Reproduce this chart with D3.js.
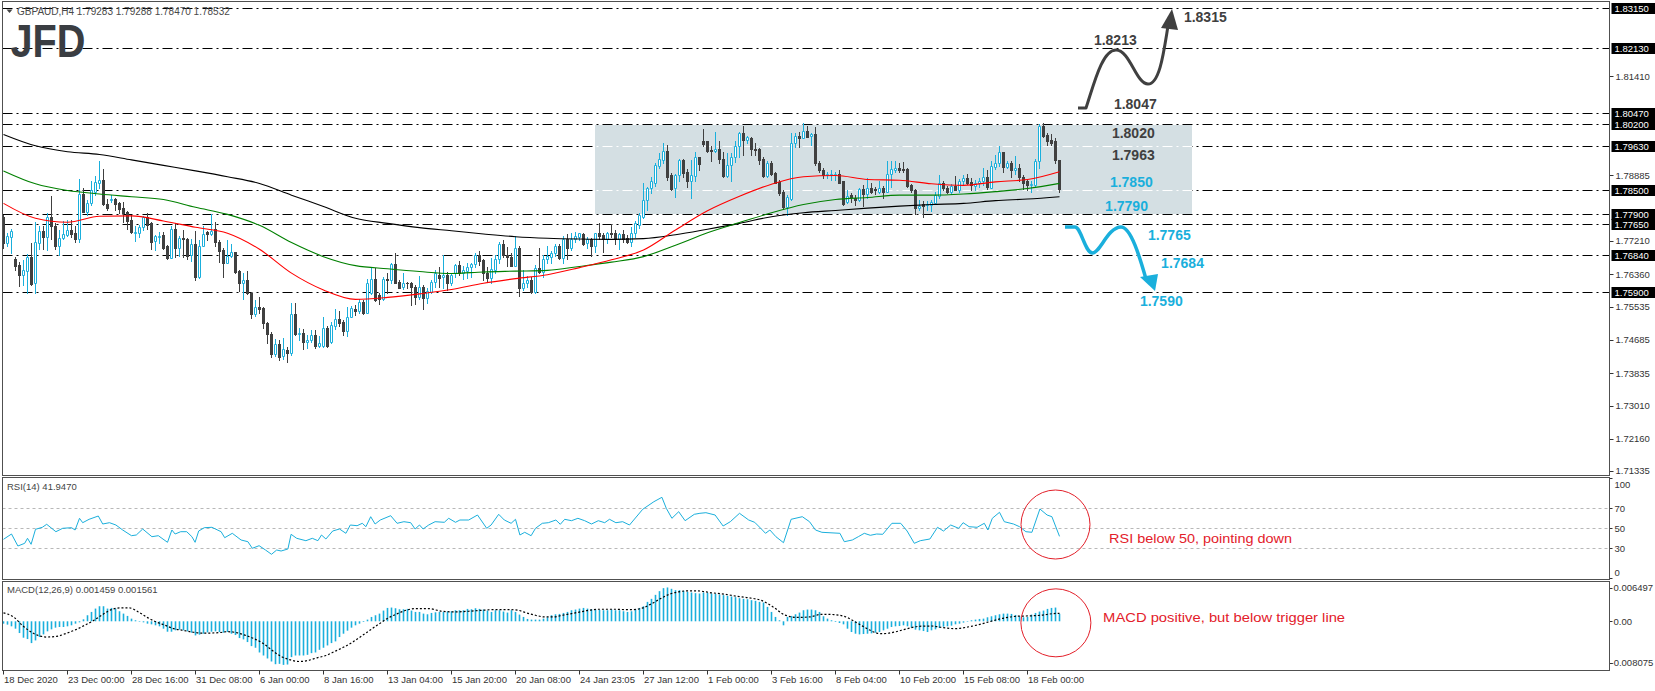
<!DOCTYPE html>
<html><head><meta charset="utf-8">
<script src="https://cdn.jsdelivr.net/npm/d3@7"></script>
<style>
html,body{margin:0;padding:0;background:#fff;}
svg{display:block;}
text{font-family:"Liberation Sans",Arial,sans-serif;}
</style></head><body>
<svg id="c" width="1655" height="691"></svg>
<script>
// ---------------- DATA ----------------
const symbolTitle = "GBPAUD,H4  1.79283 1.79288 1.78470 1.78532";
const open = [1.7783,1.7717,1.7732,1.7674,1.7660,1.7633,1.7645,1.7679,1.7613,1.7717,
1.7747,1.7730,1.7783,1.7759,1.7709,1.7728,1.7736,1.7749,1.7742,1.7725,
1.7841,1.7796,1.7817,1.7847,1.7870,1.7877,1.7816,1.7826,1.7828,1.7817,
1.7805,1.7794,1.7775,1.7742,1.7741,1.7756,1.7783,1.7766,1.7720,1.7732,
1.7736,1.7707,1.7678,1.7752,1.7702,1.7729,1.7725,1.7685,1.7713,1.7630,
1.7708,1.7744,1.7738,1.7751,1.7719,1.7698,1.7666,1.7683,1.7692,1.7644,
1.7613,1.7621,1.7589,1.7534,1.7552,1.7549,1.7511,1.7484,1.7432,1.7457,
1.7427,1.7443,1.7434,1.7535,1.7483,1.7485,1.7462,1.7468,1.7481,1.7453,
1.7454,1.7498,1.7464,1.7504,1.7522,1.7513,1.7490,1.7528,1.7547,1.7542,
1.7564,1.7536,1.7587,1.7624,1.7583,1.7572,1.7624,1.7621,1.7662,1.7616,
1.7603,1.7615,1.7613,1.7604,1.7577,1.7603,1.7575,1.7592,1.7617,1.7634,
1.7628,1.7634,1.7613,1.7639,1.7660,1.7639,1.7645,1.7654,1.7662,1.7685,
1.7672,1.7640,1.7626,1.7647,1.7674,1.7713,1.7685,1.7679,1.7658,1.7702,
1.7600,1.7613,1.7621,1.7592,1.7651,1.7643,1.7674,1.7681,1.7690,1.7709,
1.7677,1.7726,1.7702,1.7725,1.7730,1.7738,1.7715,1.7725,1.7709,1.7741,
1.7736,1.7725,1.7741,1.7741,1.7725,1.7738,1.7728,1.7719,1.7741,1.7762,
1.7783,1.7826,1.7856,1.7870,1.7913,1.7928,1.7951,1.7890,1.7856,1.7890,
1.7928,1.7896,1.7873,1.7888,1.7935,1.7976,1.7975,1.7953,1.7952,1.7956,
1.7930,1.7887,1.7915,1.7936,1.7964,1.7996,1.7979,1.7983,1.7956,1.7955,
1.7930,1.7887,1.7919,1.7894,1.7871,1.7847,1.7807,1.7828,1.7970,1.7989,
1.7985,1.8003,1.7989,1.7993,1.7921,1.7902,1.7890,1.7890,1.7890,1.7892,
1.7873,1.7820,1.7839,1.7832,1.7826,1.7853,1.7841,1.7856,1.7853,1.7847,
1.7856,1.7847,1.7892,1.7901,1.7907,1.7905,1.7905,1.7864,1.7850,1.7804,
1.7815,1.7813,1.7813,1.7819,1.7836,1.7868,1.7857,1.7845,1.7862,1.7851,
1.7873,1.7881,1.7871,1.7862,1.7868,1.7873,1.7884,1.7857,1.7911,1.7919,
1.7947,1.7911,1.7919,1.7902,1.7907,1.7885,1.7873,1.7864,1.7864,1.7924,
1.8015,1.7992,1.7979,1.7976,1.79283];
const high = [1.7787,1.7741,1.7751,1.7681,1.7668,1.7673,1.7688,1.7715,1.7769,1.7758,
1.7758,1.7792,1.7836,1.7766,1.7749,1.7773,1.7775,1.7775,1.7758,1.7879,
1.7856,1.7826,1.7873,1.7887,1.7925,1.7905,1.7827,1.7838,1.7832,1.7821,
1.7821,1.7797,1.7787,1.7758,1.7762,1.7785,1.7792,1.7770,1.7736,1.7745,
1.7745,1.7711,1.7758,1.7766,1.7734,1.7749,1.7728,1.7725,1.7747,1.7724,
1.7758,1.7747,1.7789,1.7770,1.7724,1.7702,1.7724,1.7713,1.7694,1.7647,
1.7638,1.7645,1.7590,1.7570,1.7577,1.7552,1.7515,1.7488,1.7472,1.7468,
1.7474,1.7451,1.7562,1.7562,1.7498,1.7496,1.7481,1.7494,1.7494,1.7478,
1.7526,1.7505,1.7515,1.7547,1.7541,1.7519,1.7552,1.7555,1.7558,1.7572,
1.7570,1.7624,1.7653,1.7651,1.7587,1.7630,1.7638,1.7666,1.7690,1.7621,
1.7639,1.7617,1.7617,1.7609,1.7632,1.7609,1.7600,1.7621,1.7647,1.7655,
1.7684,1.7643,1.7637,1.7662,1.7669,1.7657,1.7664,1.7666,1.7690,1.7696,
1.7674,1.7654,1.7677,1.7685,1.7719,1.7724,1.7705,1.7690,1.7734,1.7709,
1.7647,1.7632,1.7630,1.7660,1.7702,1.7685,1.7709,1.7696,1.7713,1.7713,
1.7734,1.7738,1.7741,1.7743,1.7742,1.7741,1.7730,1.7728,1.7742,1.7768,
1.7741,1.7745,1.7764,1.7749,1.7742,1.7749,1.7736,1.7756,1.7773,1.7792,
1.7868,1.7860,1.7884,1.7919,1.7945,1.7970,1.7966,1.7894,1.7892,1.7930,
1.7930,1.7905,1.7928,1.7949,1.7936,1.8007,1.7976,1.7964,1.7998,1.7975,
1.7947,1.7945,1.7945,1.7975,1.8000,1.8015,1.7989,1.7986,1.7970,1.7958,
1.7936,1.7924,1.7925,1.7898,1.7877,1.7851,1.7839,1.7996,1.7996,1.7998,
1.8021,1.8015,1.7996,1.8011,1.7924,1.7907,1.7898,1.7902,1.7898,1.7901,
1.7874,1.7850,1.7843,1.7839,1.7856,1.7864,1.7881,1.7870,1.7860,1.7874,
1.7861,1.7925,1.7925,1.7925,1.7921,1.7922,1.7907,1.7867,1.7853,1.7826,
1.7824,1.7824,1.7826,1.7847,1.7890,1.7874,1.7861,1.7867,1.7887,1.7879,
1.7890,1.7892,1.7881,1.7877,1.7881,1.7907,1.7901,1.7924,1.7941,1.7964,
1.7949,1.7926,1.7924,1.7938,1.7917,1.7890,1.7879,1.7873,1.7930,1.8019,
1.8021,1.7996,1.7993,1.7983,1.79288];
const low = [1.7702,1.7707,1.7691,1.7647,1.7607,1.7609,1.7587,1.7609,1.7589,1.7701,
1.7701,1.7698,1.7725,1.7701,1.7684,1.7726,1.7734,1.7730,1.7719,1.7719,
1.7794,1.7787,1.7813,1.7838,1.7855,1.7813,1.7800,1.7821,1.7800,1.7793,
1.7770,1.7752,1.7741,1.7722,1.7730,1.7749,1.7751,1.7701,1.7698,1.7715,
1.7701,1.7674,1.7677,1.7681,1.7683,1.7681,1.7674,1.7670,1.7621,1.7627,
1.7707,1.7724,1.7736,1.7707,1.7668,1.7630,1.7664,1.7681,1.7640,1.7594,
1.7572,1.7586,1.7524,1.7530,1.7536,1.7498,1.7460,1.7426,1.7427,1.7417,
1.7419,1.7413,1.7430,1.7481,1.7468,1.7444,1.7447,1.7464,1.7447,1.7451,
1.7451,1.7451,1.7461,1.7496,1.7504,1.7481,1.7479,1.7526,1.7532,1.7536,
1.7534,1.7536,1.7585,1.7568,1.7560,1.7570,1.7589,1.7615,1.7613,1.7600,
1.7598,1.7600,1.7558,1.7560,1.7574,1.7547,1.7562,1.7587,1.7604,1.7604,
1.7600,1.7596,1.7609,1.7628,1.7634,1.7624,1.7626,1.7630,1.7655,1.7660,
1.7621,1.7619,1.7615,1.7639,1.7664,1.7681,1.7656,1.7656,1.7656,1.7581,
1.7596,1.7603,1.7589,1.7589,1.7640,1.7630,1.7666,1.7666,1.7683,1.7674,
1.7666,1.7674,1.7698,1.7719,1.7724,1.7711,1.7702,1.7683,1.7694,1.7725,
1.7694,1.7717,1.7732,1.7713,1.7701,1.7718,1.7715,1.7707,1.7730,1.7753,
1.7779,1.7800,1.7843,1.7861,1.7907,1.7919,1.7877,1.7850,1.7834,1.7873,
1.7885,1.7860,1.7830,1.7874,1.7902,1.7964,1.7949,1.7926,1.7949,1.7919,
1.7885,1.7885,1.7875,1.7922,1.7936,1.7941,1.7970,1.7941,1.7941,1.7918,
1.7885,1.7884,1.7890,1.7868,1.7839,1.7802,1.7787,1.7826,1.7962,1.7962,
1.7983,1.7986,1.7966,1.7915,1.7898,1.7881,1.7881,1.7877,1.7877,1.7868,
1.7813,1.7817,1.7821,1.7813,1.7824,1.7810,1.7830,1.7843,1.7840,1.7843,
1.7830,1.7845,1.7858,1.7896,1.7896,1.7898,1.7858,1.7845,1.7789,1.7800,
1.7783,1.7800,1.7798,1.7817,1.7830,1.7850,1.7843,1.7841,1.7850,1.7847,
1.7864,1.7867,1.7850,1.7851,1.7858,1.7864,1.7853,1.7856,1.7905,1.7912,
1.7898,1.7908,1.7885,1.7892,1.7875,1.7853,1.7851,1.7847,1.7861,1.7907,
1.7987,1.7966,1.7966,1.7921,1.78470];
const close = [1.7715,1.7734,1.7747,1.7658,1.7633,1.7647,1.7679,1.7611,1.7718,1.7747,
1.7730,1.7783,1.7758,1.7708,1.7728,1.7738,1.7749,1.7739,1.7725,1.7841,
1.7796,1.7817,1.7851,1.7872,1.7877,1.7816,1.7804,1.7828,1.7816,1.7803,
1.7793,1.7773,1.7743,1.7745,1.7756,1.7783,1.7762,1.7719,1.7734,1.7734,
1.7704,1.7678,1.7752,1.7704,1.7729,1.7725,1.7683,1.7713,1.7630,1.7708,
1.7739,1.7738,1.7747,1.7719,1.7696,1.7666,1.7683,1.7692,1.7643,1.7613,
1.7621,1.7587,1.7534,1.7552,1.7547,1.7511,1.7484,1.7432,1.7457,1.7426,
1.7444,1.7434,1.7535,1.7483,1.7485,1.7462,1.7468,1.7481,1.7453,1.7460,
1.7498,1.7454,1.7507,1.7521,1.7511,1.7490,1.7528,1.7549,1.7541,1.7564,
1.7536,1.7613,1.7624,1.7570,1.7572,1.7624,1.7621,1.7662,1.7615,1.7602,
1.7615,1.7613,1.7604,1.7577,1.7603,1.7575,1.7594,1.7617,1.7639,1.7627,
1.7634,1.7613,1.7634,1.7660,1.7639,1.7647,1.7654,1.7662,1.7685,1.7671,
1.7639,1.7627,1.7649,1.7674,1.7713,1.7684,1.7679,1.7658,1.7702,1.7600,
1.7613,1.7621,1.7592,1.7651,1.7643,1.7674,1.7683,1.7690,1.7709,1.7677,
1.7726,1.7702,1.7726,1.7734,1.7741,1.7713,1.7725,1.7709,1.7741,1.7734,
1.7725,1.7741,1.7739,1.7725,1.7738,1.7725,1.7719,1.7741,1.7766,1.7787,
1.7826,1.7856,1.7873,1.7915,1.7930,1.7951,1.7885,1.7853,1.7890,1.7928,
1.7894,1.7873,1.7890,1.7935,1.7917,1.7969,1.7952,1.7952,1.7955,1.7930,
1.7887,1.7915,1.7936,1.7964,1.7996,1.7979,1.7986,1.7955,1.7953,1.7928,
1.7887,1.7919,1.7892,1.7870,1.7843,1.7807,1.7833,1.7970,1.7989,1.7985,
1.8003,1.7987,1.7993,1.7919,1.7901,1.7890,1.7892,1.7892,1.7892,1.7870,
1.7816,1.7837,1.7834,1.7826,1.7853,1.7841,1.7856,1.7847,1.7850,1.7856,
1.7847,1.7892,1.7904,1.7907,1.7902,1.7902,1.7862,1.7850,1.7804,1.7811,
1.7811,1.7815,1.7821,1.7839,1.7868,1.7856,1.7845,1.7862,1.7851,1.7874,
1.7881,1.7870,1.7864,1.7870,1.7874,1.7884,1.7858,1.7912,1.7919,1.7947,
1.7911,1.7919,1.7902,1.7907,1.7884,1.7870,1.7864,1.7866,1.7925,1.8015,
1.7989,1.7977,1.7970,1.7928,1.78532];

// moving averages sampled every 8 bars
const maBars = [0,8,16,24,32,40,48,56,64,72,80,88,96,104,112,120,128,136,144,152,160,168,176,184,192,200,208,216,224,232,240,248,256,264];
const ma200 = [1.7993,1.7964,1.7949,1.7942,1.7928,1.7914,1.7900,1.7885,1.7868,1.7838,1.7809,1.7779,1.7766,1.7755,1.7747,1.7739,1.7732,1.7728,1.7726,1.7725,1.7727,1.7737,1.7751,1.7766,1.7783,1.7793,1.7799,1.7805,1.7810,1.7814,1.7817,1.7824,1.7828,1.7834];
const ma100 = [1.7900,1.7867,1.7850,1.7841,1.7834,1.7827,1.7807,1.7789,1.7761,1.7717,1.7681,1.7658,1.7650,1.7643,1.7638,1.7642,1.7644,1.7646,1.7656,1.7667,1.7681,1.7710,1.7742,1.7768,1.7793,1.7814,1.7827,1.7832,1.7838,1.7838,1.7841,1.7847,1.7855,1.7868];
const ma50 = [1.7817,1.7779,1.7769,1.7784,1.7785,1.7772,1.7756,1.7741,1.7700,1.7639,1.7596,1.7572,1.7577,1.7586,1.7597,1.7613,1.7625,1.7635,1.7653,1.7673,1.7698,1.7749,1.7798,1.7835,1.7866,1.7885,1.7888,1.7878,1.7876,1.7867,1.7863,1.7872,1.7878,1.7898];

// RSI(14) [bar, value]
const rsiSeries = [[0,39.0],[2,44.3],[3.6,32.3],[5.3,35.0],[6,40.0],[6.9,34.0],[8,49.0],[9.7,51.0],[10.8,54.0],[13.1,46.6],[14.8,50.0],[17,50.6],[17.9,48.3],[19,60.0],[19.8,55.6],[21.4,59.0],[23.7,62.3],[24.8,54.3],[26.5,55.6],[28.1,53.3],[29.8,48.3],[32,42.6],[33.2,43.3],[34.8,49.3],[37.1,41.6],[38.7,42.6],[41,36.0],[42.1,48.3],[42.9,44.3],[44.3,46.6],[45.8,46.6],[47.1,41.6],[47.9,36.0],[48.8,47.3],[50.2,50.6],[52.1,51.0],[54.4,46.6],[55.3,40.6],[57.2,45.0],[59.4,38.3],[61.1,36.6],[62.2,30.0],[63.9,32.6],[65.5,28.3],[67,24.0],[68.3,28.3],[69.4,27.3],[71.1,29.3],[71.9,44.0],[73.3,40.0],[75.6,37.6],[77.2,40.0],[78.6,37.6],[79.5,43.3],[80.6,39.3],[82.3,47.3],[84,49.3],[85.6,45.0],[86.7,53.3],[88.4,52.6],[89.7,55.0],[90.6,51.6],[91.8,61.6],[92.9,54.3],[94.2,58.3],[96.8,62.6],[98.4,55.0],[100.1,56.6],[101.8,55.6],[102.9,49.3],[104,53.3],[104.9,49.3],[106.3,53.3],[107.9,56.6],[110.2,56.0],[111.3,60.0],[113,56.0],[114.1,58.3],[116.3,58.3],[118.5,63.3],[120.8,50.0],[121.9,53.3],[123.8,64.0],[125.2,58.3],[126.9,55.0],[128,59.0],[129.1,43.3],[130.3,46.0],[131.9,42.6],[133,50.0],[134.7,55.0],[136.2,55.6],[138.1,58.3],[139.2,54.0],[140.3,59.0],[142,57.6],[143.6,60.0],[145.3,57.6],[147,54.3],[148.7,57.6],[150.3,55.6],[151.5,59.0],[153.1,55.6],[154.8,56.6],[156.5,53.3],[159.8,69.0],[162.6,76.6],[164.6,81.0],[165.7,70.0],[167.1,60.0],[168.8,66.6],[170.4,57.6],[172.7,64.0],[174.1,65.0],[175.6,65.6],[177.9,63.3],[179.9,52.3],[181.7,56.6],[184,65.0],[186.3,58.3],[187.8,56.0],[189.3,50.0],[190.5,45.0],[191.6,48.3],[193.1,41.6],[195,35.6],[196.9,59.0],[199.7,61.6],[201.5,56.6],[203,48.3],[204.6,46.0],[209.1,45.0],[210.2,36.6],[212.2,38.3],[213.7,41.6],[215.2,45.0],[216.7,43.0],[218.3,44.3],[219.8,44.0],[222.1,55.0],[224.3,55.0],[225.9,47.3],[227.7,35.0],[229.2,37.6],[231.6,39.3],[233.5,51.0],[235,47.3],[236.8,53.3],[238.8,50.0],[239.9,55.6],[241.4,51.6],[243.4,51.0],[245.2,55.0],[246.1,48.3],[247.2,60.0],[249,66.0],[250.2,56.6],[252.5,54.3],[254,51.6],[255.6,46.6],[257.1,46.0],[259.1,69.3],[260.9,63.3],[262.1,61.6],[264,41.947]];
const rsiLevels = [70,50,30];
const rsiAxisLabels = ["100","70","50","30","0"];
const rsiAxisValues = [100,70,50,30,0];

// MACD(12,26,9) main (histogram), one per bar
const macdMain = [-0.00046,-0.00065,-0.00098,-0.00144,-0.00229,-0.00320,-0.00346,-0.00425,-0.00373,-0.00307,
-0.00255,-0.00196,-0.00157,-0.00124,-0.00111,-0.00111,-0.00098,-0.00078,-0.00046,-0.00020,
0.00039,0.00118,0.00183,0.00248,0.00294,0.00294,0.00248,0.00261,0.00248,0.00196,
0.00150,0.00105,0.00052,0.00020,0.00005,-0.00020,-0.00046,-0.00059,-0.00078,-0.00098,
-0.00144,-0.00203,-0.00203,-0.00176,-0.00163,-0.00176,-0.00196,-0.00222,-0.00275,-0.00261,
-0.00242,-0.00216,-0.00203,-0.00196,-0.00209,-0.00222,-0.00209,-0.00242,-0.00268,-0.00327,
-0.00353,-0.00405,-0.00484,-0.00516,-0.00608,-0.00667,-0.00725,-0.00784,-0.00837,-0.00830,
-0.00850,-0.00843,-0.00699,-0.00667,-0.00667,-0.00667,-0.00654,-0.00621,-0.00608,-0.00556,
-0.00516,-0.00471,-0.00425,-0.00392,-0.00307,-0.00242,-0.00183,-0.00124,-0.00078,-0.00046,
-0.00013,0.00033,0.00085,0.00118,0.00150,0.00209,0.00261,0.00268,0.00255,0.00235,
0.00235,0.00242,0.00209,0.00183,0.00183,0.00150,0.00137,0.00163,0.00176,0.00183,
0.00183,0.00190,0.00196,0.00216,0.00216,0.00216,0.00242,0.00235,0.00255,0.00242,
0.00229,0.00209,0.00183,0.00216,0.00216,0.00190,0.00170,0.00216,0.00183,0.00131,
0.00085,0.00046,0.00033,0.00033,0.00033,0.00052,0.00078,0.00118,0.00137,0.00144,
0.00163,0.00183,0.00216,0.00229,0.00248,0.00261,0.00248,0.00235,0.00229,0.00222,
0.00216,0.00216,0.00229,0.00216,0.00216,0.00196,0.00183,0.00196,0.00229,0.00261,
0.00294,0.00379,0.00438,0.00516,0.00588,0.00647,0.00660,0.00634,0.00608,0.00608,
0.00595,0.00575,0.00562,0.00549,0.00542,0.00562,0.00556,0.00542,0.00536,0.00523,
0.00510,0.00497,0.00484,0.00471,0.00451,0.00438,0.00431,0.00412,0.00399,0.00379,
0.00366,0.00281,0.00183,0.00085,0.00020,-0.00078,0.00085,0.00105,0.00137,0.00170,
0.00216,0.00229,0.00229,0.00216,0.00183,0.00098,0.00052,0.00020,-0.00013,-0.00033,
-0.00059,-0.00144,-0.00209,-0.00242,-0.00255,-0.00248,-0.00242,-0.00235,-0.00222,-0.00209,
-0.00176,-0.00144,-0.00111,-0.00098,-0.00092,-0.00078,-0.00098,-0.00124,-0.00163,-0.00176,
-0.00190,-0.00209,-0.00176,-0.00157,-0.00131,-0.00105,-0.00098,-0.00085,-0.00059,-0.00046,
-0.00026,0.00000,0.00020,0.00033,0.00046,0.00052,0.00078,0.00098,0.00118,0.00137,
0.00150,0.00150,0.00144,0.00124,0.00098,0.00078,0.00085,0.00131,0.00163,0.00190,
0.00209,0.00242,0.00261,0.00268,0.001459];
// MACD signal [bar, value]
const macdSignal = [[0,0.00163],[2.5,0.00085],[4.7,-0.00078],[6.9,-0.00209],[9.2,-0.00288],[10.8,-0.00307],[13.6,-0.00288],[15.9,-0.00229],[18.1,-0.00163],[20.3,-0.00078],[22.6,0.00020],[24.8,0.00131],[27,0.00229],[29.3,0.00261],[31.5,0.00261],[33.7,0.00183],[36,0.00072],[38.2,-0.00013],[40.4,-0.00078],[42.6,-0.00144],[44.9,-0.00176],[47.1,-0.00209],[49.3,-0.00229],[51.6,-0.00229],[53.8,-0.00222],[56,-0.00203],[58.3,-0.00222],[60.5,-0.00275],[62.7,-0.00340],[65,-0.00438],[67.2,-0.00569],[69.4,-0.00686],[71.7,-0.00752],[73.9,-0.00784],[76.1,-0.00765],[78.4,-0.00712],[80.6,-0.00667],[82.8,-0.00588],[85.1,-0.00503],[87.3,-0.00405],[89.5,-0.00288],[91.8,-0.00163],[94,-0.00046],[96.2,0.00065],[98.5,0.00150],[100.7,0.00216],[102.9,0.00248],[106.3,0.00248],[109.6,0.00196],[113,0.00183],[116.3,0.00196],[119.7,0.00216],[123,0.00229],[126.4,0.00229],[128.6,0.00216],[130.8,0.00163],[133,0.00118],[135.3,0.00085],[137.5,0.00085],[139.7,0.00118],[142,0.00150],[144.2,0.00183],[146.4,0.00216],[148.7,0.00235],[150.9,0.00235],[153.1,0.00235],[155.4,0.00229],[157.6,0.00229],[159.8,0.00261],[162.1,0.00346],[164.3,0.00444],[166.5,0.00529],[168.8,0.00575],[171,0.00595],[173.2,0.00595],[177.1,0.00556],[180.2,0.00529],[183.2,0.00490],[186.3,0.00458],[189.3,0.00412],[192.4,0.00281],[195.4,0.00120],[198.5,0.00075],[201.5,0.00085],[204.6,0.00137],[207.6,0.00131],[210.6,0.00085],[213.7,-0.00046],[216.7,-0.00176],[218.3,-0.00229],[219.8,-0.00242],[222.8,-0.00209],[225.9,-0.00144],[228.9,-0.00098],[232,-0.00092],[235,-0.00124],[238,-0.00144],[241.1,-0.00111],[244.1,-0.00059],[247.2,0.00007],[250.2,0.00065],[253.3,0.00098],[256.3,0.00105],[259.4,0.00118],[262.4,0.00150],[264,0.001561]];
const macdAxisValues = [0.006497,0,-0.008075];
const macdAxisLabels = ["0.006497","0.00","-0.008075"];

// horizontal levels and price axis
const levels = [1.8315,1.8213,1.8047,1.8020,1.7963,1.7850,1.7790,1.7765,1.7684,1.7590];
const levelLabels = ["1.83150","1.82130","1.80470","1.80200","1.79630","1.78500","1.77900","1.77650","1.76840","1.75900"];
const priceTicks = [1.81410,1.78885,1.77210,1.76360,1.75535,1.74685,1.73835,1.73010,1.72160,1.71335];
const priceTickLabels = ["1.81410","1.78885","1.77210","1.76360","1.75535","1.74685","1.73835","1.73010","1.72160","1.71335"];

// time axis
const timeTickBars = [0,16,32,48,64,80,96,112,128,144,160,176,192,208,224,240,256];
const timeTickLabels = ["18 Dec 2020","23 Dec 00:00","28 Dec 16:00","31 Dec 08:00","6 Jan 00:00","8 Jan 16:00","13 Jan 04:00","15 Jan 20:00","20 Jan 08:00","24 Jan 23:05","27 Jan 12:00","1 Feb 00:00","3 Feb 16:00","8 Feb 04:00","10 Feb 20:00","15 Feb 08:00","18 Feb 00:00"];

// analyst drawings (in bar / price coordinates)
const zone = {fromBar:148, toBar:297, top:1.8020, bottom:1.7790};
const upPath = [["M",268.63,1.80605],["L",270.63,1.80605],["C",272.63,1.81218,274.63,1.82086,278.13,1.82086],["C",281.63,1.82086,283.13,1.81218,286.13,1.81218],["C",289.13,1.81218,290.13,1.82086,291.13,1.82699]];
const upHead = [[292.13,1.83133],[289.38,1.82648],[293.63,1.82597]];
const downPath = [["M",265.38,1.77567],["L",267.88,1.77567],["C",269.38,1.77567,270.38,1.76904,272.25,1.76904],["C",274.13,1.76904,276.13,1.77567,279.38,1.77567],["C",281.88,1.77567,284.13,1.76776,285.63,1.76240]];
const downHead = [[284.13,1.76291],[288.63,1.76368],[287.88,1.75934]];
const noteTexts = ["1.8315","1.8213","1.8047","1.8020","1.7963","1.7850","1.7790","1.7765","1.7684","1.7590"];
const noteBars = [295.1,272.6,277.6,277.1,277.1,276.6,275.4,286.1,289.4,284.1];
const notePrices = [1.82929,1.82341,1.80707,1.79967,1.79406,1.78716,1.78103,1.77363,1.76648,1.75686];
const noteBlue = [false,false,false,false,false,true,true,true,true,true];
const rsiNote = {text:"RSI below 50, pointing down", bar:276.4, value:40.3, circleBar:263, circleValue:53.8};
const macdNote = {text:"MACD positive, but below trigger line", bar:274.9, value:0.0007, circleBar:263.1, circleValue:-0.0003};

// ---------------- DRAW ----------------
const N = close.length;
const svg = d3.select('#c');
const LEFT = 2.5, RIGHT = 1609.5;
const P = {main:[1.5,475.5], rsi:[477.5,579.5], macd:[581.5,670.5]};
const BULL = '#1AAFDC', BEAR = '#404040', BLUE = '#1AAFDC', DARK = '#404040', RED = '#E3202A';

const x = d3.scaleLinear().domain([0,264]).range([3.5,1059.5]);
const y = d3.scaleLinear().domain([1.71223,1.83324]).range([475.5,1.5]);
const yR = d3.scaleLinear().domain([0,100]).range([578.3,478.3]);
const yM = d3.scaleLinear().domain([-0.0095,0.007667]).range([670,582]);

svg.append('rect').attr('width',1655).attr('height',691).attr('fill','#fff');
const defs = svg.append('defs');
function clip(id,y0,y1){defs.append('clipPath').attr('id',id).append('rect').attr('x',LEFT+0.5).attr('y',y0+0.5).attr('width',RIGHT-LEFT-1).attr('height',y1-y0-1);}
clip('cm',P.main[0],P.main[1]); clip('cr',P.rsi[0],P.rsi[1]); clip('cd',P.macd[0],P.macd[1]);

const gm = svg.append('g').attr('clip-path','url(#cm)');
const cy = v => Math.round(y(v))+0.5;

const zTop = cy(zone.top), zBot = cy(zone.bottom);
gm.selectAll('line.lv').data(levels).join('line').attr('class','lv')
  .attr('x1',LEFT).attr('x2',RIGHT).attr('y1',d=>cy(d)).attr('y2',d=>cy(d))
  .attr('stroke','#000').attr('stroke-width',1).attr('stroke-dasharray','10,4,2,4');
const zx0 = Math.round(x(zone.fromBar)), zx1 = Math.round(x(zone.toBar));
gm.append('rect').attr('x',zx0).attr('y',zTop+0.5).attr('width',zx1-zx0).attr('height',zBot-zTop-1).attr('fill','#D4DFE3');
defs.append('clipPath').attr('id','cz').append('rect').attr('x',zx0).attr('y',zTop+0.5).attr('width',zx1-zx0).attr('height',zBot-zTop-1);
gm.append('g').attr('clip-path','url(#cz)').selectAll('line').data(levels.filter(v=>v<zone.top&&v>zone.bottom)).join('line')
  .attr('x1',LEFT).attr('x2',RIGHT).attr('y1',d=>cy(d)).attr('y2',d=>cy(d))
  .attr('stroke','#fff').attr('stroke-width',1).attr('stroke-dasharray','10,4,2,4');

// candles
const gc = gm.append('g');
for(let i=0;i<N;i++){
  const cx = Math.floor(x(i))+0.5;
  const o=open[i], c=close[i];
  const up = c>=o;
  const yt = Math.round(y(Math.max(o,c))), yb = Math.round(y(Math.min(o,c)));
  const yh = Math.round(y(high[i])), yl = Math.round(y(low[i]));
  const col = up?BULL:BEAR;
  if(up){
    if(yh<yt) gc.append('line').attr('x1',cx).attr('x2',cx).attr('y1',yh).attr('y2',yt).attr('stroke',col);
    if(yl>yb) gc.append('line').attr('x1',cx).attr('x2',cx).attr('y1',yb+1).attr('y2',yl+1).attr('stroke',col);
    gc.append('path').attr('d',`M${cx-1},${yt+0.5}h2v${Math.max(0,yb-yt)}h-2z`).attr('fill','#fff').attr('stroke',col).attr('stroke-width',1);
  } else {
    gc.append('line').attr('x1',cx).attr('x2',cx).attr('y1',yh).attr('y2',yl+1).attr('stroke',col);
    gc.append('rect').attr('x',cx-1.5).attr('y',yt).attr('width',3).attr('height',Math.max(1,yb-yt+1)).attr('fill',col);
  }
}

// moving averages
const maLine = arr => d3.line().x((d,i)=>x(maBars[i])).y(d=>y(d)).curve(d3.curveMonotoneX)(arr);
[[ma200,'#000000'],[ma100,'#008000'],[ma50,'#FF0000']].forEach(([a,c])=>{
  gm.append('path').attr('d',maLine(a)).attr('fill','none').attr('stroke',c).attr('stroke-width',1.1);
});

// drawings
function pathFrom(cmds){
  return cmds.map(c=>{
    const t=c[0]; const pts=[];
    for(let k=1;k<c.length;k+=2) pts.push(x(c[k]).toFixed(1)+','+y(c[k+1]).toFixed(1));
    return t+pts.join(' ');
  }).join(' ');
}
gm.append('path').attr('d',pathFrom(upPath)).attr('fill','none').attr('stroke',DARK).attr('stroke-width',3).attr('stroke-linejoin','round');
gm.append('polygon').attr('points',upHead.map(p=>x(p[0])+','+y(p[1])).join(' ')).attr('fill',DARK);
gm.append('path').attr('d',pathFrom(downPath)).attr('fill','none').attr('stroke',BLUE).attr('stroke-width',3.5).attr('stroke-linejoin','round');
gm.append('polygon').attr('points',downHead.map(p=>x(p[0])+','+y(p[1])).join(' ')).attr('fill',BLUE);
gm.selectAll('text.note').data(noteTexts).join('text').attr('class','note')
  .attr('x',(d,i)=>x(noteBars[i])).attr('y',(d,i)=>y(notePrices[i])).attr('dy','0.36em')
  .attr('font-size',14).attr('font-weight','bold').attr('fill',(d,i)=>noteBlue[i]?BLUE:DARK).text(d=>d);

// title + logo
svg.append('path').attr('d','M6.5,9.5h6l-3,3.5z').attr('fill','#444');
svg.append('text').attr('x',17).attr('y',11).attr('dy','0.35em').attr('font-size',10).attr('fill','#4a4a4a').text(symbolTitle);
svg.append('text').attr('x',10.5).attr('y',57).attr('font-size',47).attr('font-weight','bold')
  .attr('font-family','Roboto, "Liberation Sans", sans-serif')
  .attr('textLength',75).attr('lengthAdjust','spacingAndGlyphs').attr('fill','#3A3D42').text('JFD');

// price axis
const ga = svg.append('g');
ga.selectAll('line.pt').data(priceTicks).join('line').attr('x1',RIGHT).attr('x2',RIGHT+4)
  .attr('y1',d=>cy(d)).attr('y2',d=>cy(d)).attr('stroke','#333');
ga.selectAll('text.pt').data(priceTickLabels).join('text').attr('x',RIGHT+6).attr('y',(d,i)=>y(priceTicks[i])).attr('dy','0.35em')
  .attr('font-size',9.5).attr('fill','#333').text(d=>d);
ga.selectAll('rect.lv').data(levels).join('rect').attr('x',RIGHT+2).attr('y',d=>Math.round(y(d))-5)
  .attr('width',1655-RIGHT-2).attr('height',11).attr('fill','#000');
ga.selectAll('text.lv').data(levelLabels).join('text').attr('x',RIGHT+5).attr('y',(d,i)=>y(levels[i])+0.5).attr('dy','0.35em')
  .attr('font-size',9.5).attr('fill','#fff').text(d=>d);

// RSI panel
const gr = svg.append('g').attr('clip-path','url(#cr)');
gr.selectAll('line').data(rsiLevels).join('line').attr('x1',LEFT).attr('x2',RIGHT)
  .attr('y1',d=>Math.round(yR(d))+0.5).attr('y2',d=>Math.round(yR(d))+0.5)
  .attr('stroke','#B8B8B8').attr('stroke-dasharray','3,3');
gr.append('path').attr('d',d3.line().x(d=>x(d[0])).y(d=>yR(d[1]))(rsiSeries)).attr('fill','none').attr('stroke',BLUE).attr('stroke-width',1);
svg.append('text').attr('x',7).attr('y',487).attr('dy','0.35em').attr('font-size',9.5).attr('fill','#444').text('RSI(14) 41.9470');
svg.selectAll('text.ra').data(rsiAxisLabels).join('text').attr('class','ra').attr('x',RIGHT+5)
  .attr('y',(d,i)=>Math.min(Math.max(yR(rsiAxisValues[i]),484.5),572.5)).attr('dy','0.35em').attr('font-size',9.5).attr('fill','#333').text(d=>d);
svg.selectAll('line.ra').data(rsiAxisValues).join('line').attr('class','ra').attr('x1',RIGHT).attr('x2',RIGHT+3)
  .attr('y1',d=>Math.round(yR(d))+0.5).attr('y2',d=>Math.round(yR(d))+0.5).attr('stroke','#333');
svg.append('ellipse').attr('cx',x(rsiNote.circleBar)).attr('cy',yR(rsiNote.circleValue)).attr('rx',34.5).attr('ry',34.5)
  .attr('fill','none').attr('stroke',RED).attr('stroke-width',1);
svg.append('text').attr('x',x(rsiNote.bar)).attr('y',yR(rsiNote.value)).attr('dy','0.35em').attr('font-size',13.5)
  .attr('textLength',183).attr('lengthAdjust','spacingAndGlyphs').attr('fill',RED).text(rsiNote.text);

// MACD panel
const gd = svg.append('g').attr('clip-path','url(#cd)');
const z0 = yM(0);
gd.selectAll('rect').data(macdMain).join('rect')
  .attr('x',(d,i)=>Math.floor(x(i))-0.3).attr('width',1.6)
  .attr('y',d=>Math.min(yM(d),z0)).attr('height',d=>Math.max(0.5,Math.abs(yM(d)-z0)))
  .attr('fill',BLUE);
gd.append('path').attr('d',d3.line().x(d=>x(d[0])).y(d=>yM(d[1])).curve(d3.curveMonotoneX)(macdSignal))
  .attr('fill','none').attr('stroke','#000').attr('stroke-width',1.2).attr('stroke-dasharray','2,2');
svg.append('text').attr('x',7).attr('y',590).attr('dy','0.35em').attr('font-size',9.5).attr('fill','#444').text('MACD(12,26,9) 0.001459 0.001561');
svg.selectAll('text.ma').data(macdAxisLabels).join('text').attr('class','ma').attr('x',(d,i)=>macdAxisValues[i]<0?RIGHT+1:RIGHT+4)
  .attr('y',(d,i)=>yM(macdAxisValues[i])).attr('dy','0.35em').attr('font-size',9.5).attr('fill','#333').text(d=>d);
svg.selectAll('line.ma').data(macdAxisValues).join('line').attr('class','ma').attr('x1',RIGHT).attr('x2',RIGHT+3)
  .attr('y1',d=>Math.round(yM(d))+0.5).attr('y2',d=>Math.round(yM(d))+0.5).attr('stroke','#333');
svg.append('ellipse').attr('cx',x(macdNote.circleBar)).attr('cy',yM(macdNote.circleValue)).attr('rx',35).attr('ry',34)
  .attr('fill','none').attr('stroke',RED).attr('stroke-width',1);
svg.append('text').attr('x',x(macdNote.bar)).attr('y',yM(macdNote.value)).attr('dy','0.35em').attr('font-size',13.5)
  .attr('textLength',242).attr('lengthAdjust','spacingAndGlyphs').attr('fill',RED).text(macdNote.text);

// panel borders
[P.main,P.rsi,P.macd].forEach(p=>{
  svg.append('rect').attr('x',LEFT).attr('y',p[0]).attr('width',RIGHT-LEFT).attr('height',p[1]-p[0])
    .attr('fill','none').attr('stroke','#505050').attr('stroke-width',1);
});

// time axis
svg.selectAll('line.tt').data(timeTickBars).join('line').attr('class','tt')
  .attr('x1',d=>Math.floor(x(d))+0.5).attr('x2',d=>Math.floor(x(d))+0.5).attr('y1',P.macd[1]).attr('y2',P.macd[1]+4).attr('stroke','#333');
svg.selectAll('text.tt').data(timeTickLabels).join('text').attr('class','tt')
  .attr('x',(d,i)=>Math.floor(x(timeTickBars[i]))+1).attr('y',679.5).attr('dy','0.35em')
  .attr('font-size',9.5).attr('fill','#333').text(d=>d);
</script>
</body></html>
